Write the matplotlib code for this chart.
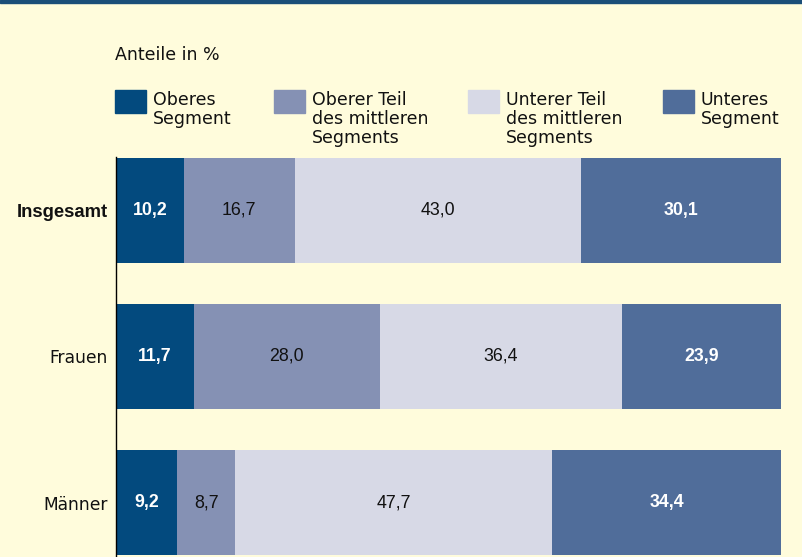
import matplotlib
matplotlib.use("Agg")
import matplotlib.pyplot as plt
from matplotlib.patches import Rectangle

plt.rcParams['font.family'] = ['Liberation Sans', 'DejaVu Sans']
TEXT_FONT = ['DejaVu Sans']

categories = ["Insgesamt", "Frauen", "Männer"]
oberes = [10.2, 11.7, 9.2]
oberer_teil = [16.7, 28.0, 8.7]
unterer_teil = [43.0, 36.4, 47.7]
unteres = [30.1, 23.9, 34.4]
series_names = ["Oberes\nSegment", "Oberer Teil\ndes mittleren\nSegments",
                "Unterer Teil\ndes mittleren\nSegments", "Unteres\nSegment"]
colors = ["#034a7e", "#8591b4", "#d7d9e6", "#506d9a"]
text_colors = ["white", "#111111", "#111111", "white"]
text_weights = ["bold", "normal", "normal", "bold"]
bg = "#fffcdc"

W, H = 802, 557
fig = plt.figure(figsize=(W / 100, H / 100), dpi=100, facecolor=bg)

def fx(px):
    return px / W

def fy(py):
    return 1 - py / H

# axes: x 116..781, y 157..557
ax = fig.add_axes([fx(116), 0, fx(781) - fx(116), (557 - 157) / H])
ax.set_facecolor(bg)

series = [oberes, oberer_teil, unterer_teil, unteres]
pos = list(range(len(categories)))
left = [0.0] * len(categories)
bar_h = 105 / 146.3
for vals, c, tc, tw in zip(series, colors, text_colors, text_weights):
    ax.barh(pos, vals, left=left, height=bar_h, color=c, edgecolor='none')
    for i, v in enumerate(vals):
        ax.text(left[i] + v / 2, pos[i], f"{v:.1f}".replace('.', ','),
                ha='center', va='center', color=tc, fontsize=12.8, fontweight=tw)
    left = [l + v for l, v in zip(left, vals)]

ax.set_xlim(0, 100)
top_data = -(210.3 - 157) / 146.3
bottom_data = 2 + (557 - 502.6) / 146.3
ax.set_ylim(bottom_data, top_data)
ax.set_yticks(pos)
ax.set_yticklabels(categories, fontsize=12.3, color='#111111', family=TEXT_FONT)
first = ax.get_yticklabels()[0]
first.set_fontweight('bold')
first.set_family(['Liberation Sans'])
first.set_fontsize(13.3)
ax.tick_params(axis='y', length=0, pad=6)
ax.set_xticks([])
for s in ['top', 'right', 'bottom']:
    ax.spines[s].set_visible(False)
ax.spines['left'].set_color('black')
ax.spines['left'].set_linewidth(1.0)

# top rule
fig.patches.append(Rectangle((0, fy(2.5)), 1, fy(0) - fy(2.5), transform=fig.transFigure,
                             color="#1b4e78", zorder=5))

# subtitle
fig.text(fx(115), fy(60), "Anteile in %", fontsize=12.5, color='#111111',
         va='baseline', ha='left', family=TEXT_FONT)

# legend
sq_x = [115, 274, 468, 663]
for name, c, x0 in zip(series_names, colors, sq_x):
    fig.patches.append(Rectangle((fx(x0), fy(113)), fx(31), (113 - 90) / H,
                                 transform=fig.transFigure, color=c))
    for j, line in enumerate(name.split("\n")):
        fig.text(fx(x0 + 38), fy(105 + 19 * j), line, fontsize=12.5, color='#111111',
                 va='baseline', ha='left', family=TEXT_FONT)

fig.savefig("out.png", dpi=100, facecolor=bg)
